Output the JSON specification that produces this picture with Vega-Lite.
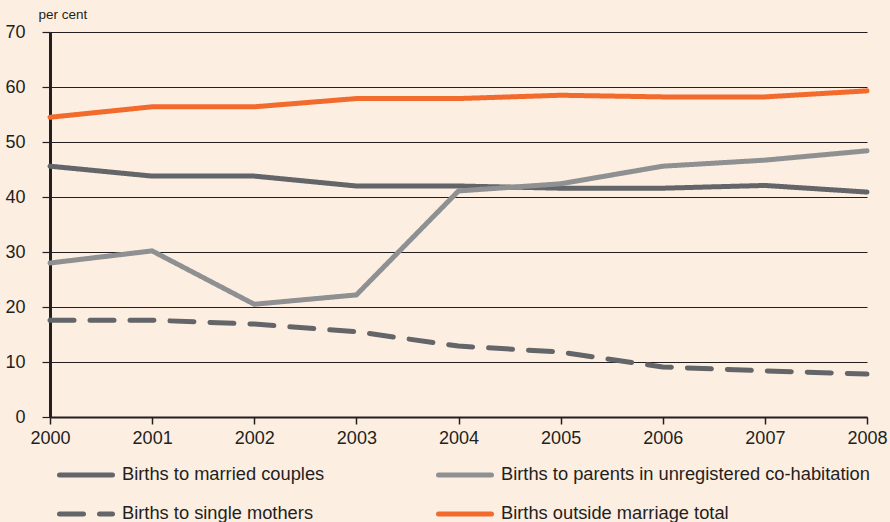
{
  "$schema": "https://vega.github.io/schema/vega-lite/v6.json",
  "width": 817,
  "height": 385,
  "autosize": {"type": "none"},
  "padding": {"left": 50, "top": 32, "right": 23, "bottom": 105},
  "background": "#FDEEE2",
  "config": {
    "view": {"stroke": null},
    "font": "Liberation Sans",
    "axis": {"labelFont": "Liberation Sans", "titleFont": "Liberation Sans"},
    "legend": {"labelFont": "Liberation Sans"}
  },
  "data": {
    "values": [
      {"year": 2000, "series": "Births to married couples", "value": 45.6},
      {"year": 2001, "series": "Births to married couples", "value": 43.8},
      {"year": 2002, "series": "Births to married couples", "value": 43.8},
      {"year": 2003, "series": "Births to married couples", "value": 42.0},
      {"year": 2004, "series": "Births to married couples", "value": 42.0},
      {"year": 2005, "series": "Births to married couples", "value": 41.6},
      {"year": 2006, "series": "Births to married couples", "value": 41.6},
      {"year": 2007, "series": "Births to married couples", "value": 42.1},
      {"year": 2008, "series": "Births to married couples", "value": 40.9},
      {"year": 2000, "series": "Births to parents in unregistered co-habitation", "value": 28.0},
      {"year": 2001, "series": "Births to parents in unregistered co-habitation", "value": 30.2},
      {"year": 2002, "series": "Births to parents in unregistered co-habitation", "value": 20.5},
      {"year": 2003, "series": "Births to parents in unregistered co-habitation", "value": 22.2},
      {"year": 2004, "series": "Births to parents in unregistered co-habitation", "value": 41.1},
      {"year": 2005, "series": "Births to parents in unregistered co-habitation", "value": 42.4},
      {"year": 2006, "series": "Births to parents in unregistered co-habitation", "value": 45.6},
      {"year": 2007, "series": "Births to parents in unregistered co-habitation", "value": 46.7},
      {"year": 2008, "series": "Births to parents in unregistered co-habitation", "value": 48.4},
      {"year": 2000, "series": "Births to single mothers", "value": 17.6},
      {"year": 2001, "series": "Births to single mothers", "value": 17.6},
      {"year": 2002, "series": "Births to single mothers", "value": 16.9},
      {"year": 2003, "series": "Births to single mothers", "value": 15.5},
      {"year": 2004, "series": "Births to single mothers", "value": 12.9},
      {"year": 2005, "series": "Births to single mothers", "value": 11.8},
      {"year": 2006, "series": "Births to single mothers", "value": 9.1},
      {"year": 2007, "series": "Births to single mothers", "value": 8.4},
      {"year": 2008, "series": "Births to single mothers", "value": 7.8},
      {"year": 2000, "series": "Births outside marriage total", "value": 54.5},
      {"year": 2001, "series": "Births outside marriage total", "value": 56.4},
      {"year": 2002, "series": "Births outside marriage total", "value": 56.4},
      {"year": 2003, "series": "Births outside marriage total", "value": 57.9},
      {"year": 2004, "series": "Births outside marriage total", "value": 57.9},
      {"year": 2005, "series": "Births outside marriage total", "value": 58.5},
      {"year": 2006, "series": "Births outside marriage total", "value": 58.2},
      {"year": 2007, "series": "Births outside marriage total", "value": 58.2},
      {"year": 2008, "series": "Births outside marriage total", "value": 59.3}
    ]
  },
  "mark": {"type": "line", "strokeWidth": 5, "strokeCap": "round", "strokeJoin": "round"},
  "encoding": {
    "x": {
      "field": "year",
      "type": "quantitative",
      "scale": {"domain": [2000, 2008], "nice": false, "zero": false},
      "axis": {
        "values": [2000, 2001, 2002, 2003, 2004, 2005, 2006, 2007, 2008],
        "format": "d",
        "title": null,
        "grid": false,
        "domainColor": "#231F20",
        "domainWidth": 2,
        "tickColor": "#231F20",
        "tickWidth": 1.5,
        "tickSize": 7,
        "labelFontSize": 18,
        "labelColor": "#231F20",
        "labelPadding": 5,
        "labelFlush": false
      }
    },
    "y": {
      "field": "value",
      "type": "quantitative",
      "scale": {"domain": [0, 70], "nice": false},
      "axis": {
        "values": [0, 10, 20, 30, 40, 50, 60, 70],
        "title": "per cent",
        "titleAngle": 0,
        "titleAlign": "left",
        "titleBaseline": "middle",
        "titleX": -12,
        "titleY": -18,
        "titleFontSize": 13.5,
        "titleFontWeight": "normal",
        "titleColor": "#231F20",
        "grid": true,
        "gridColor": "#231F20",
        "gridWidth": 1.2,
        "domainColor": "#231F20",
        "domainWidth": 3,
        "tickColor": "#231F20",
        "tickWidth": 1.2,
        "tickSize": 8,
        "labelFontSize": 18,
        "labelColor": "#231F20",
        "labelPadding": 17
      }
    },
    "color": {
      "field": "series",
      "type": "nominal",
      "scale": {
        "domain": ["Births to married couples", "Births to single mothers", "Births to parents in unregistered co-habitation", "Births outside marriage total"],
        "range": ["#636568", "#636568", "#8E9092", "#F26B2D"]
      },
      "legend": {
        "title": null,
        "orient": "none",
        "legendX": 7,
        "legendY": 414,
        "columns": 2,
        "columnPadding": 103,
        "rowPadding": -25,
        "padding": 0,
        "symbolType": "stroke",
        "symbolSize": 2809,
        "symbolStrokeWidth": 5,
        "labelFontSize": 18.3,
        "labelColor": "#231F20",
        "labelOffset": 7,
        "labelLimit": 500,
        "encode": {"symbols": {"update": {"strokeCap": {"value": "round"}}}}
      }
    },
    "strokeDash": {
      "field": "series",
      "type": "nominal",
      "scale": {
        "domain": ["Births to married couples", "Births to single mothers", "Births to parents in unregistered co-habitation", "Births outside marriage total"],
        "range": [[1, 0], [24, 16], [1, 0], [1, 0]]
      },
      "legend": {
        "title": null,
        "orient": "none",
        "legendX": 7,
        "legendY": 414,
        "columns": 2,
        "columnPadding": 103,
        "rowPadding": -25,
        "padding": 0,
        "symbolType": "stroke",
        "symbolSize": 2809,
        "symbolStrokeWidth": 5,
        "labelFontSize": 18.3,
        "labelColor": "#231F20",
        "labelOffset": 7,
        "labelLimit": 500,
        "encode": {"symbols": {"update": {"strokeCap": {"value": "round"}}}}
      }
    },
    "order": {"field": "year", "type": "quantitative"}
  }
}
